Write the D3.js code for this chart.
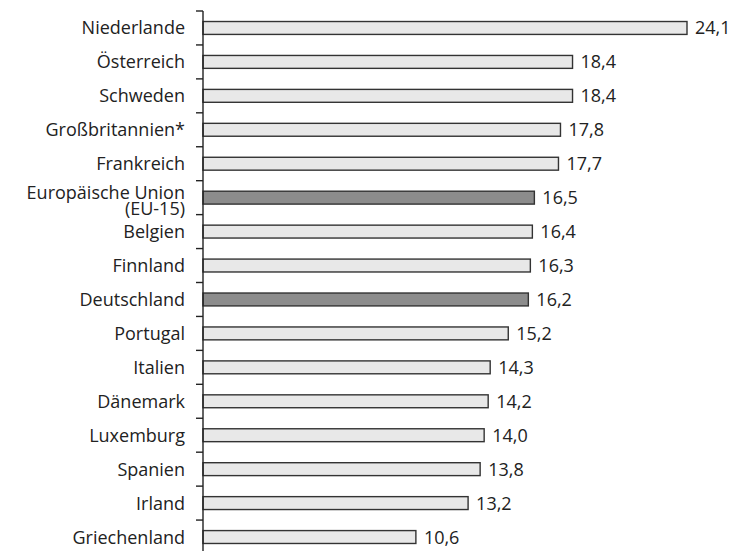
<!DOCTYPE html>
<html>
<head>
<meta charset="utf-8">
<script src="https://cdn.jsdelivr.net/npm/d3@7"></script>
<style>
  body { margin: 0; background: #fff; }
  text { font-family: "Open Sans", sans-serif; fill: #222; }
</style>
</head>
<body>
<svg id="chart"></svg>
<script>
// Länder, von oben nach unten
const countries = ['Niederlande', 'Österreich', 'Schweden', 'Großbritannien*', 'Frankreich',
  'Europäische Union|(EU-15)', 'Belgien', 'Finnland', 'Deutschland', 'Portugal', 'Italien',
  'Dänemark', 'Luxemburg', 'Spanien', 'Irland', 'Griechenland']
const values = [24.1, 18.4, 18.4, 17.8, 17.7, 16.5, 16.4, 16.3, 16.2, 15.2, 14.3, 14.2, 14.0, 13.8, 13.2, 10.6]
// hervorgehobene Balken
const highlighted = ['Europäische Union|(EU-15)', 'Deutschland']

const width = 737
const height = 551
const margin = { top: 11, left: 203, bottom: -3 }
const fontSize = 18

const svg = d3.select('#chart')
  .attr('width', width)
  .attr('height', height)

const y = d3.scaleBand()
  .domain(countries)
  .range([margin.top, height - margin.bottom])
  .paddingInner(0.62)
  .paddingOuter(0.31)

const x = d3.scaleLinear()
  .domain([0, 24.1])
  .range([margin.left, 687])

// Balken
svg.append('g').selectAll('rect')
  .data(countries)
  .join('rect')
  .attr('x', x(0))
  .attr('y', d => y(d))
  .attr('width', (d, i) => x(values[i]) - x(0))
  .attr('height', y.bandwidth())
  .attr('fill', d => highlighted.includes(d) ? '#8c8c8c' : '#e8e8e8')
  .attr('stroke', '#333')
  .attr('stroke-width', 1.4)

// Werte
const fmt = d3.format('.1f')
svg.append('g').selectAll('text')
  .data(countries)
  .join('text')
  .attr('x', (d, i) => x(values[i]) + 8)
  .attr('y', d => y(d) + y.bandwidth() / 2)
  .attr('dy', '0.36em')
  .attr('font-size', fontSize)
  .text((d, i) => fmt(values[i]).replace('.', ','))

// Achse mit Ticks zwischen den Kategorien
const step = y.step()
const tickYs = d3.range(countries.length).map(i => y(countries[i]) - (step - y.bandwidth()) / 2)
const axis = svg.append('g')
axis.append('line')
  .attr('x1', x(0)).attr('x2', x(0))
  .attr('y1', tickYs[0]).attr('y2', height)
  .attr('stroke', '#222').attr('stroke-width', 1.4)
axis.selectAll('.tick')
  .data(tickYs)
  .join('line')
  .attr('class', 'tick')
  .attr('x1', x(0) - 7).attr('x2', x(0))
  .attr('y1', d => d).attr('y2', d => d)
  .attr('stroke', '#222').attr('stroke-width', 1.4)

// Kategorienbeschriftung
const labels = svg.append('g').selectAll('text')
  .data(countries)
  .join('text')
  .attr('text-anchor', 'end')
  .attr('font-size', fontSize)
  .attr('y', d => y(d) + y.bandwidth() / 2)
labels.each(function (d) {
  const parts = d.split('|')
  const t = d3.select(this)
  parts.forEach((p, i) => {
    t.append('tspan')
      .attr('x', 185)
      .attr('dy', i === 0 ? (parts.length > 1 ? '0.05em' : '0.36em') : '0.9em')
      .text(p)
  })
})
</script>
</body>
</html>
